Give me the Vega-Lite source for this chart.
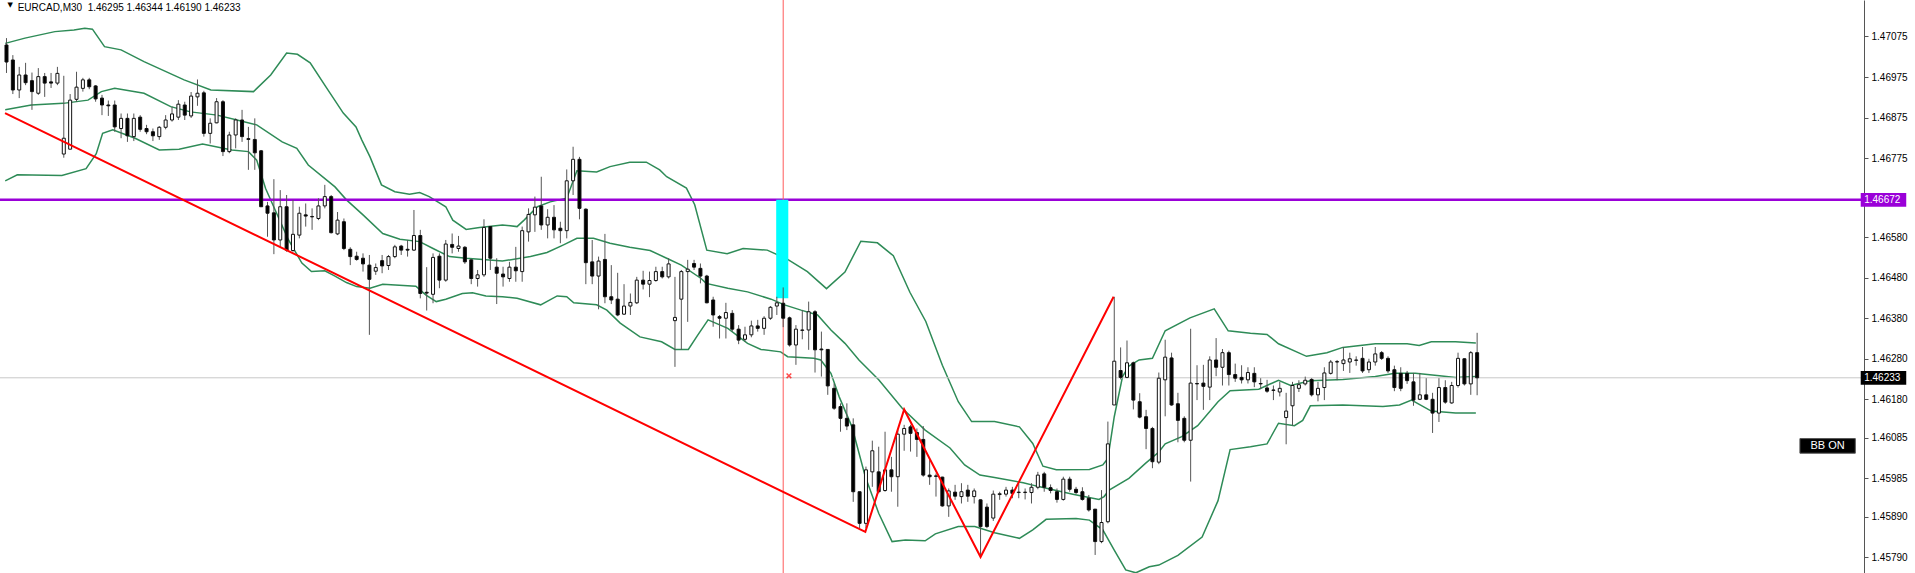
{
"$schema":"https://vega.github.io/schema/vega-lite/v6.json",
"width":1864,"height":573,"autosize":{"type":"none"},"padding":{"left":0,"top":0,"right":51,"bottom":0},"background":"white",
"config":{"view":{"stroke":null}},
"datasets":{
"one":[{}],
"candles":[
{"t":0,"o":1.47054,"h":1.47071,"l":1.46985,"c":1.47012},
{"t":1,"o":1.47017,"h":1.47029,"l":1.46933,"c":1.46943},
{"t":2,"o":1.46943,"h":1.47000,"l":1.46923,"c":1.46980},
{"t":3,"o":1.46980,"h":1.47010,"l":1.46955,"c":1.46961},
{"t":4,"o":1.46966,"h":1.46986,"l":1.46894,"c":1.46939},
{"t":5,"o":1.46935,"h":1.46997,"l":1.46931,"c":1.46976},
{"t":6,"o":1.46976,"h":1.46985,"l":1.46926,"c":1.46960},
{"t":7,"o":1.46963,"h":1.46985,"l":1.46948,"c":1.46960},
{"t":8,"o":1.46960,"h":1.47000,"l":1.46955,"c":1.46984},
{"t":9,"o":1.46785,"h":1.46978,"l":1.46776,"c":1.46824},
{"t":10,"o":1.46797,"h":1.46933,"l":1.46797,"c":1.46918},
{"t":11,"o":1.46920,"h":1.46988,"l":1.46914,"c":1.46950},
{"t":12,"o":1.46947,"h":1.46973,"l":1.46939,"c":1.46968},
{"t":13,"o":1.46968,"h":1.46973,"l":1.46945,"c":1.46951},
{"t":14,"o":1.46953,"h":1.46955,"l":1.46914,"c":1.46921},
{"t":15,"o":1.46923,"h":1.46931,"l":1.46881,"c":1.46906},
{"t":16,"o":1.46906,"h":1.46917,"l":1.46879,"c":1.46904},
{"t":17,"o":1.46906,"h":1.46917,"l":1.46840,"c":1.46852},
{"t":18,"o":1.46848,"h":1.46885,"l":1.46824,"c":1.46873},
{"t":19,"o":1.46873,"h":1.46885,"l":1.46815,"c":1.46830},
{"t":20,"o":1.46828,"h":1.46885,"l":1.46817,"c":1.46873},
{"t":21,"o":1.46876,"h":1.46881,"l":1.46840,"c":1.46846},
{"t":22,"o":1.46848,"h":1.46857,"l":1.46834,"c":1.46840},
{"t":23,"o":1.46840,"h":1.46848,"l":1.46817,"c":1.46830},
{"t":24,"o":1.46828,"h":1.46854,"l":1.46820,"c":1.46851},
{"t":25,"o":1.46851,"h":1.46881,"l":1.46846,"c":1.46869},
{"t":26,"o":1.46869,"h":1.46902,"l":1.46865,"c":1.46884},
{"t":27,"o":1.46876,"h":1.46918,"l":1.46869,"c":1.46908},
{"t":28,"o":1.46906,"h":1.46914,"l":1.46869,"c":1.46881},
{"t":29,"o":1.46879,"h":1.46938,"l":1.46874,"c":1.46928},
{"t":30,"o":1.46926,"h":1.46969,"l":1.46904,"c":1.46935},
{"t":31,"o":1.46936,"h":1.46941,"l":1.46828,"c":1.46836},
{"t":32,"o":1.46836,"h":1.46873,"l":1.46811,"c":1.46861},
{"t":33,"o":1.46862,"h":1.46923,"l":1.46861,"c":1.46914},
{"t":34,"o":1.46914,"h":1.46918,"l":1.46780,"c":1.46791},
{"t":35,"o":1.46791,"h":1.46840,"l":1.46787,"c":1.46832},
{"t":36,"o":1.46832,"h":1.46873,"l":1.46799,"c":1.46869},
{"t":37,"o":1.46869,"h":1.46894,"l":1.46815,"c":1.46828},
{"t":38,"o":1.46823,"h":1.46852,"l":1.46746,"c":1.46821},
{"t":39,"o":1.46821,"h":1.46873,"l":1.46746,"c":1.46788},
{"t":40,"o":1.46793,"h":1.46795,"l":1.46655,"c":1.46655},
{"t":41,"o":1.46657,"h":1.46667,"l":1.46581,"c":1.46639},
{"t":42,"o":1.46640,"h":1.46723,"l":1.46538,"c":1.46573},
{"t":43,"o":1.46573,"h":1.46696,"l":1.46556,"c":1.46655},
{"t":44,"o":1.46655,"h":1.46684,"l":1.46544,"c":1.46548},
{"t":45,"o":1.46547,"h":1.46672,"l":1.46544,"c":1.46587},
{"t":46,"o":1.46585,"h":1.46655,"l":1.46577,"c":1.46639},
{"t":47,"o":1.46635,"h":1.46663,"l":1.46606,"c":1.46632},
{"t":48,"o":1.46631,"h":1.46651,"l":1.46598,"c":1.46630},
{"t":49,"o":1.46626,"h":1.46676,"l":1.46622,"c":1.46657},
{"t":50,"o":1.46657,"h":1.46709,"l":1.46651,"c":1.46680},
{"t":51,"o":1.46680,"h":1.46684,"l":1.46589,"c":1.46591},
{"t":52,"o":1.46588,"h":1.46642,"l":1.46585,"c":1.46622},
{"t":53,"o":1.46618,"h":1.46626,"l":1.46548,"c":1.46552},
{"t":54,"o":1.46550,"h":1.46555,"l":1.46511,"c":1.46532},
{"t":55,"o":1.46533,"h":1.46544,"l":1.46522,"c":1.46525},
{"t":56,"o":1.46528,"h":1.46540,"l":1.46495,"c":1.46514},
{"t":57,"o":1.46511,"h":1.46536,"l":1.46339,"c":1.46476},
{"t":58,"o":1.46496,"h":1.46515,"l":1.46487,"c":1.46505},
{"t":59,"o":1.46522,"h":1.46536,"l":1.46491,"c":1.46509},
{"t":60,"o":1.46510,"h":1.46536,"l":1.46499,"c":1.46532},
{"t":61,"o":1.46532,"h":1.46561,"l":1.46528,"c":1.46556},
{"t":62,"o":1.46558,"h":1.46561,"l":1.46536,"c":1.46548},
{"t":63,"o":1.46550,"h":1.46573,"l":1.46532,"c":1.46548},
{"t":64,"o":1.46548,"h":1.46647,"l":1.46546,"c":1.46584},
{"t":65,"o":1.46584,"h":1.46598,"l":1.46429,"c":1.46441},
{"t":66,"o":1.46444,"h":1.46506,"l":1.46399,"c":1.46442},
{"t":67,"o":1.46439,"h":1.46540,"l":1.46417,"c":1.46530},
{"t":68,"o":1.46533,"h":1.46540,"l":1.46454,"c":1.46474},
{"t":69,"o":1.46474,"h":1.46573,"l":1.46470,"c":1.46563},
{"t":70,"o":1.46562,"h":1.46589,"l":1.46540,"c":1.46555},
{"t":71,"o":1.46552,"h":1.46583,"l":1.46544,"c":1.46558},
{"t":72,"o":1.46555,"h":1.46558,"l":1.46514,"c":1.46519},
{"t":73,"o":1.46524,"h":1.46525,"l":1.46464,"c":1.46478},
{"t":74,"o":1.46478,"h":1.46499,"l":1.46458,"c":1.46487},
{"t":75,"o":1.46487,"h":1.46624,"l":1.46482,"c":1.46604},
{"t":76,"o":1.46606,"h":1.46607,"l":1.46499,"c":1.46528},
{"t":77,"o":1.46506,"h":1.46528,"l":1.46415,"c":1.46491},
{"t":78,"o":1.46489,"h":1.46507,"l":1.46458,"c":1.46482},
{"t":79,"o":1.46478,"h":1.46519,"l":1.46470,"c":1.46506},
{"t":80,"o":1.46506,"h":1.46556,"l":1.46470,"c":1.46497},
{"t":81,"o":1.46495,"h":1.46606,"l":1.46470,"c":1.46596},
{"t":82,"o":1.46593,"h":1.46651,"l":1.46569,"c":1.46636},
{"t":83,"o":1.46635,"h":1.46680,"l":1.46593,"c":1.46654},
{"t":84,"o":1.46657,"h":1.46729,"l":1.46598,"c":1.46610},
{"t":85,"o":1.46610,"h":1.46649,"l":1.46577,"c":1.46629},
{"t":86,"o":1.46629,"h":1.46659,"l":1.46577,"c":1.46598},
{"t":87,"o":1.46602,"h":1.46618,"l":1.46565,"c":1.46596},
{"t":88,"o":1.46596,"h":1.46747,"l":1.46577,"c":1.46719},
{"t":89,"o":1.46719,"h":1.46803,"l":1.46684,"c":1.46772},
{"t":90,"o":1.46772,"h":1.46778,"l":1.46624,"c":1.46651},
{"t":91,"o":1.46649,"h":1.46651,"l":1.46464,"c":1.46517},
{"t":92,"o":1.46519,"h":1.46573,"l":1.46464,"c":1.46484},
{"t":93,"o":1.46484,"h":1.46532,"l":1.46402,"c":1.46521},
{"t":94,"o":1.46525,"h":1.46588,"l":1.46417,"c":1.46433},
{"t":95,"o":1.46433,"h":1.46511,"l":1.46415,"c":1.46425},
{"t":96,"o":1.46427,"h":1.46492,"l":1.46385,"c":1.46388},
{"t":97,"o":1.46390,"h":1.46464,"l":1.46388,"c":1.46410},
{"t":98,"o":1.46410,"h":1.46441,"l":1.46388,"c":1.46419},
{"t":99,"o":1.46418,"h":1.46482,"l":1.46415,"c":1.46474},
{"t":100,"o":1.46474,"h":1.46497,"l":1.46451,"c":1.46464},
{"t":101,"o":1.46464,"h":1.46495,"l":1.46432,"c":1.46473},
{"t":102,"o":1.46473,"h":1.46507,"l":1.46470,"c":1.46495},
{"t":103,"o":1.46495,"h":1.46507,"l":1.46478,"c":1.46482},
{"t":104,"o":1.46482,"h":1.46528,"l":1.46478,"c":1.46514},
{"t":105,"o":1.46374,"h":1.46482,"l":1.46260,"c":1.46382},
{"t":106,"o":1.46427,"h":1.46499,"l":1.46302,"c":1.46495},
{"t":107,"o":1.46495,"h":1.46524,"l":1.46371,"c":1.46501},
{"t":108,"o":1.46515,"h":1.46524,"l":1.46499,"c":1.46506},
{"t":109,"o":1.46503,"h":1.46515,"l":1.46466,"c":1.46484},
{"t":110,"o":1.46484,"h":1.46487,"l":1.46417,"c":1.46418},
{"t":111,"o":1.46425,"h":1.46433,"l":1.46359,"c":1.46388},
{"t":112,"o":1.46384,"h":1.46388,"l":1.46330,"c":1.46380},
{"t":113,"o":1.46380,"h":1.46418,"l":1.46330,"c":1.46394},
{"t":114,"o":1.46392,"h":1.46400,"l":1.46347,"c":1.46353},
{"t":115,"o":1.46353,"h":1.46363,"l":1.46316,"c":1.46326},
{"t":116,"o":1.46328,"h":1.46359,"l":1.46322,"c":1.46339},
{"t":117,"o":1.46339,"h":1.46374,"l":1.46333,"c":1.46361},
{"t":118,"o":1.46361,"h":1.46376,"l":1.46347,"c":1.46355},
{"t":119,"o":1.46355,"h":1.46385,"l":1.46339,"c":1.46380},
{"t":120,"o":1.46380,"h":1.46410,"l":1.46376,"c":1.46407},
{"t":121,"o":1.46410,"h":1.46433,"l":1.46388,"c":1.46418},
{"t":122,"o":1.46417,"h":1.46456,"l":1.46358,"c":1.46380},
{"t":123,"o":1.46381,"h":1.46384,"l":1.46310,"c":1.46314},
{"t":124,"o":1.46314,"h":1.46363,"l":1.46265,"c":1.46353},
{"t":125,"o":1.46350,"h":1.46400,"l":1.46328,"c":1.46351},
{"t":126,"o":1.46351,"h":1.46421,"l":1.46302,"c":1.46396},
{"t":127,"o":1.46396,"h":1.46400,"l":1.46246,"c":1.46302},
{"t":128,"o":1.46304,"h":1.46347,"l":1.46236,"c":1.46302},
{"t":129,"o":1.46303,"h":1.46303,"l":1.46191,"c":1.46213},
{"t":130,"o":1.46207,"h":1.46219,"l":1.46154,"c":1.46158},
{"t":131,"o":1.46162,"h":1.46170,"l":1.46100,"c":1.46133},
{"t":132,"o":1.46133,"h":1.46170,"l":1.46104,"c":1.46114},
{"t":133,"o":1.46117,"h":1.46133,"l":1.45927,"c":1.45952},
{"t":134,"o":1.45952,"h":1.45952,"l":1.45862,"c":1.45874},
{"t":135,"o":1.45874,"h":1.46014,"l":1.45862,"c":1.46006},
{"t":136,"o":1.46001,"h":1.46078,"l":1.45964,"c":1.46053},
{"t":137,"o":1.46001,"h":1.46063,"l":1.45948,"c":1.45952},
{"t":138,"o":1.45955,"h":1.46100,"l":1.45952,"c":1.46006},
{"t":139,"o":1.46006,"h":1.46038,"l":1.45952,"c":1.45989},
{"t":140,"o":1.45989,"h":1.46104,"l":1.45915,"c":1.46094},
{"t":141,"o":1.46094,"h":1.46117,"l":1.46053,"c":1.46108},
{"t":142,"o":1.46112,"h":1.46117,"l":1.46051,"c":1.46096},
{"t":143,"o":1.46098,"h":1.46108,"l":1.46038,"c":1.46081},
{"t":144,"o":1.46081,"h":1.46114,"l":1.45989,"c":1.45993},
{"t":145,"o":1.45993,"h":1.46030,"l":1.45969,"c":1.45989},
{"t":146,"o":1.45991,"h":1.45997,"l":1.45940,"c":1.45990},
{"t":147,"o":1.45988,"h":1.45989,"l":1.45915,"c":1.45917},
{"t":148,"o":1.45917,"h":1.45960,"l":1.45890,"c":1.45954},
{"t":149,"o":1.45951,"h":1.45969,"l":1.45932,"c":1.45941},
{"t":150,"o":1.45940,"h":1.45973,"l":1.45923,"c":1.45952},
{"t":151,"o":1.45956,"h":1.45969,"l":1.45927,"c":1.45941},
{"t":152,"o":1.45940,"h":1.45960,"l":1.45923,"c":1.45954},
{"t":153,"o":1.45932,"h":1.45933,"l":1.45792,"c":1.45866},
{"t":154,"o":1.45914,"h":1.45923,"l":1.45862,"c":1.45866},
{"t":155,"o":1.45887,"h":1.45955,"l":1.45880,"c":1.45946},
{"t":156,"o":1.45945,"h":1.45952,"l":1.45932,"c":1.45947},
{"t":157,"o":1.45946,"h":1.45964,"l":1.45940,"c":1.45956},
{"t":158,"o":1.45956,"h":1.45964,"l":1.45936,"c":1.45948},
{"t":159,"o":1.45950,"h":1.45973,"l":1.45936,"c":1.45951},
{"t":160,"o":1.45950,"h":1.45960,"l":1.45933,"c":1.45951},
{"t":161,"o":1.45950,"h":1.45973,"l":1.45923,"c":1.45963},
{"t":162,"o":1.45963,"h":1.46001,"l":1.45958,"c":1.45993},
{"t":163,"o":1.45996,"h":1.46001,"l":1.45952,"c":1.45963},
{"t":164,"o":1.45962,"h":1.45970,"l":1.45948,"c":1.45955},
{"t":165,"o":1.45952,"h":1.45960,"l":1.45925,"c":1.45933},
{"t":166,"o":1.45933,"h":1.45989,"l":1.45930,"c":1.45983},
{"t":167,"o":1.45983,"h":1.45989,"l":1.45952,"c":1.45958},
{"t":168,"o":1.45958,"h":1.45964,"l":1.45946,"c":1.45950},
{"t":169,"o":1.45952,"h":1.45963,"l":1.45930,"c":1.45933},
{"t":170,"o":1.45936,"h":1.45944,"l":1.45903,"c":1.45907},
{"t":171,"o":1.45909,"h":1.45909,"l":1.45796,"c":1.45829},
{"t":172,"o":1.45829,"h":1.45956,"l":1.45825,"c":1.45876},
{"t":173,"o":1.45878,"h":1.46125,"l":1.45874,"c":1.46070},
{"t":174,"o":1.46166,"h":1.46433,"l":1.46166,"c":1.46274},
{"t":175,"o":1.46251,"h":1.46308,"l":1.46229,"c":1.46234},
{"t":176,"o":1.46234,"h":1.46325,"l":1.46232,"c":1.46270},
{"t":177,"o":1.46270,"h":1.46273,"l":1.46155,"c":1.46178},
{"t":178,"o":1.46174,"h":1.46195,"l":1.46133,"c":1.46136},
{"t":179,"o":1.46137,"h":1.46154,"l":1.46057,"c":1.46108},
{"t":180,"o":1.46108,"h":1.46112,"l":1.46010,"c":1.46026},
{"t":181,"o":1.46025,"h":1.46246,"l":1.46020,"c":1.46232},
{"t":182,"o":1.46228,"h":1.46327,"l":1.46138,"c":1.46284},
{"t":183,"o":1.46282,"h":1.46295,"l":1.46164,"c":1.46166},
{"t":184,"o":1.46169,"h":1.46196,"l":1.46074,"c":1.46128},
{"t":185,"o":1.46133,"h":1.46138,"l":1.46074,"c":1.46079},
{"t":186,"o":1.46079,"h":1.46354,"l":1.45977,"c":1.46220},
{"t":187,"o":1.46219,"h":1.46264,"l":1.46178,"c":1.46218},
{"t":188,"o":1.46220,"h":1.46265,"l":1.46154,"c":1.46212},
{"t":189,"o":1.46210,"h":1.46286,"l":1.46178,"c":1.46277},
{"t":190,"o":1.46277,"h":1.46331,"l":1.46237,"c":1.46259},
{"t":191,"o":1.46259,"h":1.46304,"l":1.46214,"c":1.46295},
{"t":192,"o":1.46295,"h":1.46300,"l":1.46214,"c":1.46241},
{"t":193,"o":1.46241,"h":1.46268,"l":1.46223,"c":1.46232},
{"t":194,"o":1.46234,"h":1.46264,"l":1.46219,"c":1.46228},
{"t":195,"o":1.46228,"h":1.46259,"l":1.46219,"c":1.46246},
{"t":196,"o":1.46244,"h":1.46259,"l":1.46210,"c":1.46223},
{"t":197,"o":1.46219,"h":1.46232,"l":1.46205,"c":1.46218},
{"t":198,"o":1.46208,"h":1.46228,"l":1.46196,"c":1.46200},
{"t":199,"o":1.46203,"h":1.46214,"l":1.46178,"c":1.46202},
{"t":200,"o":1.46198,"h":1.46223,"l":1.46187,"c":1.46207},
{"t":201,"o":1.46135,"h":1.46196,"l":1.46069,"c":1.46151},
{"t":202,"o":1.46164,"h":1.46223,"l":1.46115,"c":1.46214},
{"t":203,"o":1.46207,"h":1.46227,"l":1.46198,"c":1.46216},
{"t":204,"o":1.46218,"h":1.46236,"l":1.46214,"c":1.46227},
{"t":205,"o":1.46229,"h":1.46232,"l":1.46187,"c":1.46191},
{"t":206,"o":1.46191,"h":1.46223,"l":1.46175,"c":1.46207},
{"t":207,"o":1.46209,"h":1.46259,"l":1.46178,"c":1.46245},
{"t":208,"o":1.46244,"h":1.46277,"l":1.46241,"c":1.46272},
{"t":209,"o":1.46272,"h":1.46277,"l":1.46227,"c":1.46273},
{"t":210,"o":1.46268,"h":1.46309,"l":1.46250,"c":1.46277},
{"t":211,"o":1.46272,"h":1.46295,"l":1.46245,"c":1.46280},
{"t":212,"o":1.46276,"h":1.46286,"l":1.46263,"c":1.46277},
{"t":213,"o":1.46281,"h":1.46309,"l":1.46245,"c":1.46250},
{"t":214,"o":1.46253,"h":1.46280,"l":1.46245,"c":1.46272},
{"t":215,"o":1.46272,"h":1.46309,"l":1.46263,"c":1.46292},
{"t":216,"o":1.46295,"h":1.46299,"l":1.46277,"c":1.46281},
{"t":217,"o":1.46281,"h":1.46286,"l":1.46245,"c":1.46250},
{"t":218,"o":1.46253,"h":1.46263,"l":1.46200,"c":1.46209},
{"t":219,"o":1.46244,"h":1.46259,"l":1.46200,"c":1.46207},
{"t":220,"o":1.46244,"h":1.46250,"l":1.46218,"c":1.46226},
{"t":221,"o":1.46223,"h":1.46245,"l":1.46164,"c":1.46178},
{"t":222,"o":1.46180,"h":1.46245,"l":1.46178,"c":1.46191},
{"t":223,"o":1.46191,"h":1.46232,"l":1.46178,"c":1.46180},
{"t":224,"o":1.46180,"h":1.46196,"l":1.46097,"c":1.46146},
{"t":225,"o":1.46146,"h":1.46232,"l":1.46124,"c":1.46209},
{"t":226,"o":1.46209,"h":1.46227,"l":1.46169,"c":1.46173},
{"t":227,"o":1.46171,"h":1.46223,"l":1.46169,"c":1.46214},
{"t":228,"o":1.46214,"h":1.46295,"l":1.46209,"c":1.46281},
{"t":229,"o":1.46280,"h":1.46281,"l":1.46214,"c":1.46218},
{"t":230,"o":1.46218,"h":1.46299,"l":1.46191,"c":1.46295},
{"t":231,"o":1.46295,"h":1.46344,"l":1.46190,"c":1.46233}
],
"bands":[
{"b":"u","t":-0.2,"v":1.47058},{"b":"u","t":2.9,"v":1.47071},{"b":"u","t":7.6,"v":1.47087},{"b":"u","t":10.6,"v":1.47091},{"b":"u","t":12.3,"v":1.47095},{"b":"u","t":13.5,"v":1.47093},{"b":"u","t":15.4,"v":1.47050},{"b":"u","t":18.0,"v":1.47042},{"b":"u","t":21.6,"v":1.47013},{"b":"u","t":27.9,"v":1.46968},{"b":"u","t":32.1,"v":1.46943},{"b":"u","t":38.8,"v":1.46939},{"b":"u","t":41.5,"v":1.46980},{"b":"u","t":44.0,"v":1.47034},{"b":"u","t":45.7,"v":1.47031},{"b":"u","t":47.7,"v":1.47010},{"b":"u","t":50.2,"v":1.46950},{"b":"u","t":52.9,"v":1.46886},{"b":"u","t":54.9,"v":1.46852},{"b":"u","t":55.8,"v":1.46820},{"b":"u","t":57.1,"v":1.46778},{"b":"u","t":58.9,"v":1.46709},{"b":"u","t":61.0,"v":1.46692},{"b":"u","t":63.3,"v":1.46686},{"b":"u","t":64.9,"v":1.46690},{"b":"u","t":66.4,"v":1.46680},{"b":"u","t":69.0,"v":1.46655},{"b":"u","t":70.1,"v":1.46622},{"b":"u","t":72.2,"v":1.46599},{"b":"u","t":74.3,"v":1.46604},{"b":"u","t":77.9,"v":1.46610},{"b":"u","t":80.2,"v":1.46606},{"b":"u","t":81.3,"v":1.46622},{"b":"u","t":83.4,"v":1.46655},{"b":"u","t":85.4,"v":1.46667},{"b":"u","t":88.0,"v":1.46676},{"b":"u","t":89.6,"v":1.46744},{"b":"u","t":92.7,"v":1.46741},{"b":"u","t":94.8,"v":1.46754},{"b":"u","t":97.9,"v":1.46765},{"b":"u","t":100.5,"v":1.46765},{"b":"u","t":102.6,"v":1.46746},{"b":"u","t":103.7,"v":1.46729},{"b":"u","t":106.8,"v":1.46701},{"b":"u","t":108.1,"v":1.46660},{"b":"u","t":110.0,"v":1.46548},{"b":"u","t":113.2,"v":1.46539},{"b":"u","t":115.7,"v":1.46552},{"b":"u","t":119.5,"v":1.46548},{"b":"u","t":122.7,"v":1.46525},{"b":"u","t":125.8,"v":1.46495},{"b":"u","t":128.8,"v":1.46453},{"b":"u","t":131.7,"v":1.46494},{"b":"u","t":134.2,"v":1.46570},{"b":"u","t":136.8,"v":1.46566},{"b":"u","t":139.3,"v":1.46534},{"b":"u","t":141.9,"v":1.46444},{"b":"u","t":144.4,"v":1.46372},{"b":"u","t":147.0,"v":1.46264},{"b":"u","t":149.5,"v":1.46174},{"b":"u","t":151.6,"v":1.46125},{"b":"u","t":155.2,"v":1.46125},{"b":"u","t":159.1,"v":1.46112},{"b":"u","t":161.2,"v":1.46071},{"b":"u","t":162.8,"v":1.46015},{"b":"u","t":164.9,"v":1.46006},{"b":"u","t":170.1,"v":1.46007},{"b":"u","t":172.2,"v":1.46018},{"b":"u","t":173.0,"v":1.46034},{"b":"u","t":174.0,"v":1.46137},{"b":"u","t":175.3,"v":1.46236},{"b":"u","t":176.3,"v":1.46262},{"b":"u","t":177.9,"v":1.46277},{"b":"u","t":180.0,"v":1.46281},{"b":"u","t":182.0,"v":1.46349},{"b":"u","t":185.9,"v":1.46381},{"b":"u","t":189.7,"v":1.46403},{"b":"u","t":191.9,"v":1.46349},{"b":"u","t":195.4,"v":1.46343},{"b":"u","t":198.0,"v":1.46340},{"b":"u","t":199.8,"v":1.46317},{"b":"u","t":204.2,"v":1.46286},{"b":"u","t":207.4,"v":1.46295},{"b":"u","t":209.9,"v":1.46308},{"b":"u","t":215.0,"v":1.46317},{"b":"u","t":220.0,"v":1.46317},{"b":"u","t":221.9,"v":1.46313},{"b":"u","t":223.8,"v":1.46322},{"b":"u","t":227.6,"v":1.46322},{"b":"u","t":230.8,"v":1.46319},
{"b":"m","t":-0.2,"v":1.46894},{"b":"m","t":3.9,"v":1.46906},{"b":"m","t":8.9,"v":1.46910},{"b":"m","t":12.8,"v":1.46918},{"b":"m","t":14.9,"v":1.46939},{"b":"m","t":17.0,"v":1.46947},{"b":"m","t":21.6,"v":1.46935},{"b":"m","t":25.8,"v":1.46902},{"b":"m","t":28.9,"v":1.46889},{"b":"m","t":33.1,"v":1.46881},{"b":"m","t":36.2,"v":1.46869},{"b":"m","t":39.3,"v":1.46857},{"b":"m","t":43.3,"v":1.46815},{"b":"m","t":45.6,"v":1.46799},{"b":"m","t":47.4,"v":1.46758},{"b":"m","t":51.6,"v":1.46704},{"b":"m","t":53.4,"v":1.46672},{"b":"m","t":56.0,"v":1.46635},{"b":"m","t":59.1,"v":1.46589},{"b":"m","t":61.8,"v":1.46575},{"b":"m","t":64.9,"v":1.46569},{"b":"m","t":67.0,"v":1.46552},{"b":"m","t":69.6,"v":1.46532},{"b":"m","t":72.2,"v":1.46528},{"b":"m","t":74.8,"v":1.46525},{"b":"m","t":77.9,"v":1.46521},{"b":"m","t":82.3,"v":1.46532},{"b":"m","t":84.9,"v":1.46542},{"b":"m","t":87.5,"v":1.46561},{"b":"m","t":89.6,"v":1.46577},{"b":"m","t":92.2,"v":1.46577},{"b":"m","t":94.8,"v":1.46565},{"b":"m","t":97.9,"v":1.46555},{"b":"m","t":101.1,"v":1.46547},{"b":"m","t":103.7,"v":1.46528},{"b":"m","t":106.0,"v":1.46511},{"b":"m","t":109.1,"v":1.46478},{"b":"m","t":109.9,"v":1.46466},{"b":"m","t":113.3,"v":1.46454},{"b":"m","t":116.4,"v":1.46445},{"b":"m","t":120.1,"v":1.46427},{"b":"m","t":122.2,"v":1.46413},{"b":"m","t":124.8,"v":1.46400},{"b":"m","t":127.4,"v":1.46388},{"b":"m","t":129.5,"v":1.46351},{"b":"m","t":131.7,"v":1.46318},{"b":"m","t":133.9,"v":1.46277},{"b":"m","t":137.0,"v":1.46228},{"b":"m","t":140.7,"v":1.46158},{"b":"m","t":144.3,"v":1.46104},{"b":"m","t":148.2,"v":1.46060},{"b":"m","t":150.5,"v":1.46018},{"b":"m","t":152.9,"v":1.45993},{"b":"m","t":155.2,"v":1.45987},{"b":"m","t":159.7,"v":1.45974},{"b":"m","t":162.3,"v":1.45964},{"b":"m","t":167.5,"v":1.45946},{"b":"m","t":171.6,"v":1.45933},{"b":"m","t":172.4,"v":1.45940},{"b":"m","t":173.2,"v":1.45956},{"b":"m","t":176.3,"v":1.45985},{"b":"m","t":178.9,"v":1.46022},{"b":"m","t":181.0,"v":1.46050},{"b":"m","t":182.0,"v":1.46070},{"b":"m","t":184.6,"v":1.46088},{"b":"m","t":187.1,"v":1.46115},{"b":"m","t":190.3,"v":1.46174},{"b":"m","t":192.2,"v":1.46201},{"b":"m","t":196.7,"v":1.46205},{"b":"m","t":199.8,"v":1.46227},{"b":"m","t":201.7,"v":1.46214},{"b":"m","t":204.8,"v":1.46226},{"b":"m","t":209.9,"v":1.46229},{"b":"m","t":215.0,"v":1.46236},{"b":"m","t":218.1,"v":1.46244},{"b":"m","t":221.3,"v":1.46244},{"b":"m","t":225.1,"v":1.46238},{"b":"m","t":227.6,"v":1.46234},{"b":"m","t":230.8,"v":1.46236},
{"b":"l","t":-0.2,"v":1.46719},{"b":"l","t":1.7,"v":1.46734},{"b":"l","t":8.7,"v":1.46732},{"b":"l","t":12.5,"v":1.46749},{"b":"l","t":14.1,"v":1.46786},{"b":"l","t":15.1,"v":1.46836},{"b":"l","t":16.7,"v":1.46845},{"b":"l","t":20.2,"v":1.46824},{"b":"l","t":24.0,"v":1.46795},{"b":"l","t":27.1,"v":1.46797},{"b":"l","t":30.8,"v":1.46810},{"b":"l","t":35.4,"v":1.46795},{"b":"l","t":38.0,"v":1.46791},{"b":"l","t":39.3,"v":1.46770},{"b":"l","t":40.7,"v":1.46700},{"b":"l","t":42.2,"v":1.46647},{"b":"l","t":44.3,"v":1.46573},{"b":"l","t":46.4,"v":1.46516},{"b":"l","t":47.9,"v":1.46495},{"b":"l","t":50.0,"v":1.46497},{"b":"l","t":51.6,"v":1.46484},{"b":"l","t":53.4,"v":1.46468},{"b":"l","t":55.0,"v":1.46458},{"b":"l","t":57.1,"v":1.46454},{"b":"l","t":59.1,"v":1.46464},{"b":"l","t":64.3,"v":1.46459},{"b":"l","t":65.9,"v":1.46437},{"b":"l","t":67.5,"v":1.46421},{"b":"l","t":69.0,"v":1.46427},{"b":"l","t":71.6,"v":1.46441},{"b":"l","t":73.2,"v":1.46443},{"b":"l","t":75.3,"v":1.46435},{"b":"l","t":77.9,"v":1.46433},{"b":"l","t":80.2,"v":1.46429},{"b":"l","t":83.9,"v":1.46413},{"b":"l","t":86.5,"v":1.46435},{"b":"l","t":88.0,"v":1.46433},{"b":"l","t":89.1,"v":1.46418},{"b":"l","t":92.7,"v":1.46413},{"b":"l","t":94.3,"v":1.46400},{"b":"l","t":96.4,"v":1.46368},{"b":"l","t":99.5,"v":1.46334},{"b":"l","t":102.9,"v":1.46322},{"b":"l","t":105.0,"v":1.46303},{"b":"l","t":107.1,"v":1.46303},{"b":"l","t":108.6,"v":1.46339},{"b":"l","t":110.2,"v":1.46376},{"b":"l","t":113.3,"v":1.46355},{"b":"l","t":116.4,"v":1.46318},{"b":"l","t":118.5,"v":1.46303},{"b":"l","t":121.6,"v":1.46297},{"b":"l","t":122.7,"v":1.46285},{"b":"l","t":126.8,"v":1.46281},{"b":"l","t":127.9,"v":1.46277},{"b":"l","t":129.5,"v":1.46244},{"b":"l","t":130.8,"v":1.46186},{"b":"l","t":132.8,"v":1.46112},{"b":"l","t":134.9,"v":1.45989},{"b":"l","t":137.0,"v":1.45899},{"b":"l","t":139.1,"v":1.45829},{"b":"l","t":141.2,"v":1.45833},{"b":"l","t":144.3,"v":1.45831},{"b":"l","t":145.9,"v":1.45848},{"b":"l","t":149.5,"v":1.45866},{"b":"l","t":152.1,"v":1.45866},{"b":"l","t":155.2,"v":1.45851},{"b":"l","t":159.1,"v":1.45837},{"b":"l","t":161.2,"v":1.45858},{"b":"l","t":163.3,"v":1.45884},{"b":"l","t":168.0,"v":1.45886},{"b":"l","t":170.1,"v":1.45882},{"b":"l","t":172.2,"v":1.45858},{"b":"l","t":174.0,"v":1.45808},{"b":"l","t":175.8,"v":1.45759},{"b":"l","t":177.4,"v":1.45752},{"b":"l","t":179.5,"v":1.45767},{"b":"l","t":181.0,"v":1.45771},{"b":"l","t":184.0,"v":1.45795},{"b":"l","t":187.8,"v":1.45840},{"b":"l","t":190.3,"v":1.45930},{"b":"l","t":192.2,"v":1.46056},{"b":"l","t":195.4,"v":1.46063},{"b":"l","t":198.0,"v":1.46070},{"b":"l","t":199.8,"v":1.46121},{"b":"l","t":202.3,"v":1.46115},{"b":"l","t":203.6,"v":1.46128},{"b":"l","t":204.8,"v":1.46164},{"b":"l","t":209.9,"v":1.46166},{"b":"l","t":216.2,"v":1.46162},{"b":"l","t":218.8,"v":1.46166},{"b":"l","t":220.7,"v":1.46178},{"b":"l","t":223.8,"v":1.46151},{"b":"l","t":227.6,"v":1.46146},{"b":"l","t":230.8,"v":1.46146}
],
"zig":[
{"t":-0.23,"v":1.46886},{"t":134.9,"v":1.45853},{"t":141.0,"v":1.46155},{"t":153.0,"v":1.45791},{"t":173.9,"v":1.46433}
]
},
"layer":[
{"data":{"name":"bands"},"mark":{"type":"line","color":"#2e8b57","strokeWidth":1.5},
 "encoding":{
  "x":{"field":"t","type":"quantitative","scale":{"domain":[-0.234,290.98],"nice":false,"zero":false},"axis":null},
  "y":{"field":"v","type":"quantitative","scale":{"domain":[1.457515,1.47165],"nice":false,"zero":false},
   "axis":{"orient":"right","values":[1.47075,1.46975,1.46875,1.46775,1.4658,1.4648,1.4638,1.4628,1.4618,1.46085,1.45985,1.4589,1.4579],"format":".5f","title":null,"grid":false,"domain":true,"domainColor":"#555555","domainWidth":1,"ticks":true,"tickColor":"#555555","tickSize":4,"labelFont":"Liberation Sans","labelFontSize":10,"labelColor":"#000000","labelPadding":3,"labelBaseline":"middle","labelOverlap":false,"labelBound":false,"labelFlush":false}},
  "detail":{"field":"b"}}},
{"data":{"name":"one"},"mark":{"type":"rule","color":"#c8c8c8","strokeWidth":1},
 "encoding":{"y":{"datum":1.46233,"type":"quantitative","scale":{"domain":[1.457515,1.47165],"nice":false,"zero":false},
   "axis":{"orient":"right","values":[1.47075,1.46975,1.46875,1.46775,1.4658,1.4648,1.4638,1.4628,1.4618,1.46085,1.45985,1.4589,1.4579],"format":".5f","title":null,"grid":false,"domain":true,"domainColor":"#555555","domainWidth":1,"ticks":true,"tickColor":"#555555","tickSize":4,"labelFont":"Liberation Sans","labelFontSize":10,"labelColor":"#000000","labelPadding":3,"labelBaseline":"middle","labelOverlap":false,"labelBound":false,"labelFlush":false}}}},
{"data":{"name":"one"},"mark":{"type":"rule","color":"#9a00d8","strokeWidth":2.5},
 "encoding":{"y":{"datum":1.46672,"type":"quantitative","scale":{"domain":[1.457515,1.47165],"nice":false,"zero":false},
   "axis":{"orient":"right","values":[1.47075,1.46975,1.46875,1.46775,1.4658,1.4648,1.4638,1.4628,1.4618,1.46085,1.45985,1.4589,1.4579],"format":".5f","title":null,"grid":false,"domain":true,"domainColor":"#555555","domainWidth":1,"ticks":true,"tickColor":"#555555","tickSize":4,"labelFont":"Liberation Sans","labelFontSize":10,"labelColor":"#000000","labelPadding":3,"labelBaseline":"middle","labelOverlap":false,"labelBound":false,"labelFlush":false}}}},
{"data":{"name":"one"},"mark":{"type":"rule","color":"#ff5a5a","strokeWidth":1},
 "encoding":{"x":{"datum":122,"type":"quantitative","scale":{"domain":[-0.234,290.98],"nice":false,"zero":false},"axis":null}}},
{"data":{"name":"one"},"mark":{"type":"rect","color":"#00ffff"},
 "encoding":{"x":{"datum":120.9,"type":"quantitative","scale":{"domain":[-0.234,290.98],"nice":false,"zero":false},"axis":null},"x2":{"datum":122.8},
  "y":{"datum":1.46672,"type":"quantitative","scale":{"domain":[1.457515,1.47165],"nice":false,"zero":false},
   "axis":{"orient":"right","values":[1.47075,1.46975,1.46875,1.46775,1.4658,1.4648,1.4638,1.4628,1.4618,1.46085,1.45985,1.4589,1.4579],"format":".5f","title":null,"grid":false,"domain":true,"domainColor":"#555555","domainWidth":1,"ticks":true,"tickColor":"#555555","tickSize":4,"labelFont":"Liberation Sans","labelFontSize":10,"labelColor":"#000000","labelPadding":3,"labelBaseline":"middle","labelOverlap":false,"labelBound":false,"labelFlush":false}},"y2":{"datum":1.46429}}},
{"data":{"name":"candles"},"mark":{"type":"rule","color":"#555555","strokeWidth":1},
 "encoding":{"x":{"field":"t","type":"quantitative","scale":{"domain":[-0.234,290.98],"nice":false,"zero":false},"axis":null},
  "y":{"field":"h","type":"quantitative","scale":{"domain":[1.457515,1.47165],"nice":false,"zero":false},
   "axis":{"orient":"right","values":[1.47075,1.46975,1.46875,1.46775,1.4658,1.4648,1.4638,1.4628,1.4618,1.46085,1.45985,1.4589,1.4579],"format":".5f","title":null,"grid":false,"domain":true,"domainColor":"#555555","domainWidth":1,"ticks":true,"tickColor":"#555555","tickSize":4,"labelFont":"Liberation Sans","labelFontSize":10,"labelColor":"#000000","labelPadding":3,"labelBaseline":"middle","labelOverlap":false,"labelBound":false,"labelFlush":false}},"y2":{"field":"l"}}},
{"data":{"name":"candles"},"mark":{"type":"bar","width":3,"orient":"vertical","stroke":"#111111","strokeWidth":1},
 "encoding":{"x":{"field":"t","type":"quantitative","scale":{"domain":[-0.234,290.98],"nice":false,"zero":false},"axis":null},
  "y":{"field":"o","type":"quantitative","scale":{"domain":[1.457515,1.47165],"nice":false,"zero":false},
   "axis":{"orient":"right","values":[1.47075,1.46975,1.46875,1.46775,1.4658,1.4648,1.4638,1.4628,1.4618,1.46085,1.45985,1.4589,1.4579],"format":".5f","title":null,"grid":false,"domain":true,"domainColor":"#555555","domainWidth":1,"ticks":true,"tickColor":"#555555","tickSize":4,"labelFont":"Liberation Sans","labelFontSize":10,"labelColor":"#000000","labelPadding":3,"labelBaseline":"middle","labelOverlap":false,"labelBound":false,"labelFlush":false}},"y2":{"field":"c"},
  "fill":{"condition":{"test":"datum.c < datum.o","value":"#000000"},"value":"#ffffff"}}},
{"data":{"name":"zig"},"mark":{"type":"line","color":"#ff0000","strokeWidth":2},
 "encoding":{"x":{"field":"t","type":"quantitative","scale":{"domain":[-0.234,290.98],"nice":false,"zero":false},"axis":null},
  "y":{"field":"v","type":"quantitative","scale":{"domain":[1.457515,1.47165],"nice":false,"zero":false},
   "axis":{"orient":"right","values":[1.47075,1.46975,1.46875,1.46775,1.4658,1.4648,1.4638,1.4628,1.4618,1.46085,1.45985,1.4589,1.4579],"format":".5f","title":null,"grid":false,"domain":true,"domainColor":"#555555","domainWidth":1,"ticks":true,"tickColor":"#555555","tickSize":4,"labelFont":"Liberation Sans","labelFontSize":10,"labelColor":"#000000","labelPadding":3,"labelBaseline":"middle","labelOverlap":false,"labelBound":false,"labelFlush":false}}}},
{"data":{"name":"one"},"mark":{"type":"point","shape":"M-1,-1L1,1M-1,1L1,-1","size":22,"stroke":"#ff0000","strokeWidth":1.5,"filled":false},
 "encoding":{"x":{"datum":122.9,"type":"quantitative","scale":{"domain":[-0.234,290.98],"nice":false,"zero":false},"axis":null},
  "y":{"datum":1.46238,"type":"quantitative","scale":{"domain":[1.457515,1.47165],"nice":false,"zero":false},
   "axis":{"orient":"right","values":[1.47075,1.46975,1.46875,1.46775,1.4658,1.4648,1.4638,1.4628,1.4618,1.46085,1.45985,1.4589,1.4579],"format":".5f","title":null,"grid":false,"domain":true,"domainColor":"#555555","domainWidth":1,"ticks":true,"tickColor":"#555555","tickSize":4,"labelFont":"Liberation Sans","labelFontSize":10,"labelColor":"#000000","labelPadding":3,"labelBaseline":"middle","labelOverlap":false,"labelBound":false,"labelFlush":false}}}},
{"data":{"name":"one"},"mark":{"type":"rect","color":"#9a00d8"},
 "encoding":{"x":{"datum":291.25,"type":"quantitative","scale":{"domain":[-0.234,290.98],"nice":false,"zero":false},"axis":null},"x2":{"datum":298.4},
  "y":{"datum":1.46689,"type":"quantitative","scale":{"domain":[1.457515,1.47165],"nice":false,"zero":false},
   "axis":{"orient":"right","values":[1.47075,1.46975,1.46875,1.46775,1.4658,1.4648,1.4638,1.4628,1.4618,1.46085,1.45985,1.4589,1.4579],"format":".5f","title":null,"grid":false,"domain":true,"domainColor":"#555555","domainWidth":1,"ticks":true,"tickColor":"#555555","tickSize":4,"labelFont":"Liberation Sans","labelFontSize":10,"labelColor":"#000000","labelPadding":3,"labelBaseline":"middle","labelOverlap":false,"labelBound":false,"labelFlush":false}},"y2":{"datum":1.46655}}},
{"data":{"name":"one"},"mark":{"type":"text","text":"1.46672","color":"#ffffff","font":"Liberation Sans","fontSize":10,"align":"left","baseline":"middle"},
 "encoding":{"x":{"datum":291.8,"type":"quantitative","scale":{"domain":[-0.234,290.98],"nice":false,"zero":false},"axis":null},
  "y":{"datum":1.46672,"type":"quantitative","scale":{"domain":[1.457515,1.47165],"nice":false,"zero":false},
   "axis":{"orient":"right","values":[1.47075,1.46975,1.46875,1.46775,1.4658,1.4648,1.4638,1.4628,1.4618,1.46085,1.45985,1.4589,1.4579],"format":".5f","title":null,"grid":false,"domain":true,"domainColor":"#555555","domainWidth":1,"ticks":true,"tickColor":"#555555","tickSize":4,"labelFont":"Liberation Sans","labelFontSize":10,"labelColor":"#000000","labelPadding":3,"labelBaseline":"middle","labelOverlap":false,"labelBound":false,"labelFlush":false}}}},
{"data":{"name":"one"},"mark":{"type":"rect","color":"#000000"},
 "encoding":{"x":{"datum":291.25,"type":"quantitative","scale":{"domain":[-0.234,290.98],"nice":false,"zero":false},"axis":null},"x2":{"datum":298.4},
  "y":{"datum":1.4625,"type":"quantitative","scale":{"domain":[1.457515,1.47165],"nice":false,"zero":false},
   "axis":{"orient":"right","values":[1.47075,1.46975,1.46875,1.46775,1.4658,1.4648,1.4638,1.4628,1.4618,1.46085,1.45985,1.4589,1.4579],"format":".5f","title":null,"grid":false,"domain":true,"domainColor":"#555555","domainWidth":1,"ticks":true,"tickColor":"#555555","tickSize":4,"labelFont":"Liberation Sans","labelFontSize":10,"labelColor":"#000000","labelPadding":3,"labelBaseline":"middle","labelOverlap":false,"labelBound":false,"labelFlush":false}},"y2":{"datum":1.46216}}},
{"data":{"name":"one"},"mark":{"type":"text","text":"1.46233","color":"#ffffff","font":"Liberation Sans","fontSize":10,"align":"left","baseline":"middle"},
 "encoding":{"x":{"datum":291.8,"type":"quantitative","scale":{"domain":[-0.234,290.98],"nice":false,"zero":false},"axis":null},
  "y":{"datum":1.46233,"type":"quantitative","scale":{"domain":[1.457515,1.47165],"nice":false,"zero":false},
   "axis":{"orient":"right","values":[1.47075,1.46975,1.46875,1.46775,1.4658,1.4648,1.4638,1.4628,1.4618,1.46085,1.45985,1.4589,1.4579],"format":".5f","title":null,"grid":false,"domain":true,"domainColor":"#555555","domainWidth":1,"ticks":true,"tickColor":"#555555","tickSize":4,"labelFont":"Liberation Sans","labelFontSize":10,"labelColor":"#000000","labelPadding":3,"labelBaseline":"middle","labelOverlap":false,"labelBound":false,"labelFlush":false}}}},
{"data":{"name":"one"},"mark":{"type":"rect","color":"#000000","stroke":"#555555","strokeWidth":1},
 "encoding":{"x":{"datum":281.7,"type":"quantitative","scale":{"domain":[-0.234,290.98],"nice":false,"zero":false},"axis":null},"x2":{"datum":290.4},
  "y":{"datum":1.46083,"type":"quantitative","scale":{"domain":[1.457515,1.47165],"nice":false,"zero":false},
   "axis":{"orient":"right","values":[1.47075,1.46975,1.46875,1.46775,1.4658,1.4648,1.4638,1.4628,1.4618,1.46085,1.45985,1.4589,1.4579],"format":".5f","title":null,"grid":false,"domain":true,"domainColor":"#555555","domainWidth":1,"ticks":true,"tickColor":"#555555","tickSize":4,"labelFont":"Liberation Sans","labelFontSize":10,"labelColor":"#000000","labelPadding":3,"labelBaseline":"middle","labelOverlap":false,"labelBound":false,"labelFlush":false}},"y2":{"datum":1.46047}}},
{"data":{"name":"one"},"mark":{"type":"text","text":"BB ON","color":"#ffffff","font":"Liberation Sans","fontSize":11,"align":"center","baseline":"middle"},
 "encoding":{"x":{"datum":286.05,"type":"quantitative","scale":{"domain":[-0.234,290.98],"nice":false,"zero":false},"axis":null},
  "y":{"datum":1.46065,"type":"quantitative","scale":{"domain":[1.457515,1.47165],"nice":false,"zero":false},
   "axis":{"orient":"right","values":[1.47075,1.46975,1.46875,1.46775,1.4658,1.4648,1.4638,1.4628,1.4618,1.46085,1.45985,1.4589,1.4579],"format":".5f","title":null,"grid":false,"domain":true,"domainColor":"#555555","domainWidth":1,"ticks":true,"tickColor":"#555555","tickSize":4,"labelFont":"Liberation Sans","labelFontSize":10,"labelColor":"#000000","labelPadding":3,"labelBaseline":"middle","labelOverlap":false,"labelBound":false,"labelFlush":false}}}},
{"data":{"name":"one"},"mark":{"type":"text","text":"▼","color":"#000000","font":"DejaVu Sans","fontSize":7,"align":"center","baseline":"middle"},
 "encoding":{"x":{"datum":0.6,"type":"quantitative","scale":{"domain":[-0.234,290.98],"nice":false,"zero":false},"axis":null},
  "y":{"datum":1.47152,"type":"quantitative","scale":{"domain":[1.457515,1.47165],"nice":false,"zero":false},
   "axis":{"orient":"right","values":[1.47075,1.46975,1.46875,1.46775,1.4658,1.4648,1.4638,1.4628,1.4618,1.46085,1.45985,1.4589,1.4579],"format":".5f","title":null,"grid":false,"domain":true,"domainColor":"#555555","domainWidth":1,"ticks":true,"tickColor":"#555555","tickSize":4,"labelFont":"Liberation Sans","labelFontSize":10,"labelColor":"#000000","labelPadding":3,"labelBaseline":"middle","labelOverlap":false,"labelBound":false,"labelFlush":false}}}},
{"data":{"name":"one"},"mark":{"type":"text","text":"EURCAD,M30\u00a0 1.46295 1.46344 1.46190 1.46233","color":"#000000","font":"Liberation Sans","fontSize":10,"align":"left","baseline":"middle"},
 "encoding":{"x":{"datum":1.75,"type":"quantitative","scale":{"domain":[-0.234,290.98],"nice":false,"zero":false},"axis":null},
  "y":{"datum":1.47146,"type":"quantitative","scale":{"domain":[1.457515,1.47165],"nice":false,"zero":false},
   "axis":{"orient":"right","values":[1.47075,1.46975,1.46875,1.46775,1.4658,1.4648,1.4638,1.4628,1.4618,1.46085,1.45985,1.4589,1.4579],"format":".5f","title":null,"grid":false,"domain":true,"domainColor":"#555555","domainWidth":1,"ticks":true,"tickColor":"#555555","tickSize":4,"labelFont":"Liberation Sans","labelFontSize":10,"labelColor":"#000000","labelPadding":3,"labelBaseline":"middle","labelOverlap":false,"labelBound":false,"labelFlush":false}}}}
]
}
